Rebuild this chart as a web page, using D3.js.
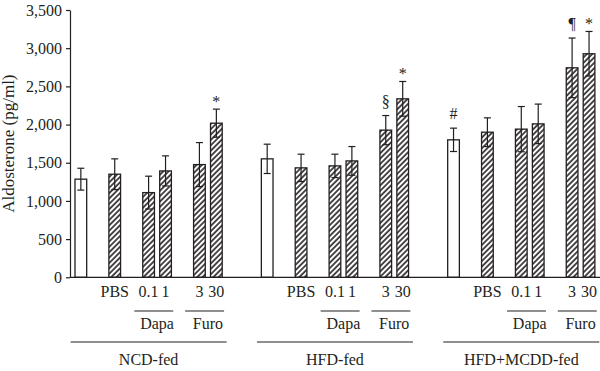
<!DOCTYPE html>
<html>
<head>
<meta charset="utf-8">
<script src="https://cdn.jsdelivr.net/npm/d3@7"></script>
<style>
  body { margin: 0; background: #fff; }
  svg text { font-family: "Liberation Serif", "DejaVu Serif", serif; fill: #231f20; }
</style>
</head>
<body>
<div id="chart"></div>
<script>
// groups of mice and the treatments given inside each group
const groups = ['NCD-fed', 'HFD-fed', 'HFD+MCDD-fed']
const treatments = ['', 'PBS', '0.1', '1', '3', '30']
const treatmentSlots = [0, 2, 4, 5, 7, 8]   // slot of each bar inside a group
const drugs = [
  { name: 'Dapa', slots: [4, 5] },
  { name: 'Furo', slots: [7, 8] }
]

// aldosterone means (pg/ml), one list per group
const ncdMeans = [1285, 1350, 1109, 1393, 1476, 2018]
const hfdMeans = [1551, 1433, 1459, 1524, 1927, 2337]
const mcddMeans = [1800, 1900, 1940, 2009, 2743, 2927]
// error bars
const ncdErrors = [143, 201, 215, 197, 288, 184]
const hfdErrors = [192, 179, 153, 188, 191, 227]
const mcddErrors = [153, 188, 296, 259, 390, 292]
// significance marks
const ncdMarks = ['', '', '', '', '', '*']
const hfdMarks = ['', '', '', '', '§', '*']
const mcddMarks = ['#', '', '', '', '¶', '*']

const yTicks = [0, 500, 1000, 1500, 2000, 2500, 3000, 3500]

const means = [ncdMeans, hfdMeans, mcddMeans]
const errors = [ncdErrors, hfdErrors, mcddErrors]
const marks = [ncdMarks, hfdMarks, mcddMarks]

const data = []
groups.forEach((g, gi) => {
  treatments.forEach((t, ti) => {
    data.push({
      group: g, gi: gi, label: t, slot: gi * 11 + treatmentSlots[ti],
      value: means[gi][ti], err: errors[gi][ti], mark: marks[gi][ti],
      control: ti === 0
    })
  })
})

const width = 600
const height = 371
const ink = '#231f20'

const svg = d3.select('#chart').append('svg')
  .attr('width', width)
  .attr('height', height)

// hatch pattern for treated bars
svg.append('defs').append('pattern')
  .attr('id', 'hatch')
  .attr('patternUnits', 'userSpaceOnUse')
  .attr('width', 3.8)
  .attr('height', 3.8)
  .attr('patternTransform', 'rotate(45)')
  .call(p => {
    p.append('rect').attr('width', 3.8).attr('height', 3.8).attr('fill', '#fff')
    p.append('line')
      .attr('x1', 1).attr('x2', 1).attr('y1', 0).attr('y2', 3.8)
      .attr('stroke', ink).attr('stroke-width', 1.6)
  })

// scales
const axisX = 70
const slotCount = 33
const step = 16.94
const pad = 0.31
const x = d3.scaleBand()
  .domain(d3.range(slotCount))
  .range([75, 75 + step * (slotCount - pad)])
  .paddingInner(pad)
  .paddingOuter(0)
  .align(0)
const bw = x.bandwidth()
// continuous slot position, used for brackets under the axis
const u = d3.scaleLinear().domain([0, 1]).range([75, 75 + x.step()])

const y = d3.scaleLinear().domain([0, 3500]).range([277.3, 10])

// y axis
const yAxis = d3.axisLeft(y)
  .tickValues(yTicks)
  .tickFormat(d3.format(','))
  .tickSize(4)
  .tickSizeOuter(0)
  .tickPadding(4)
const gy = svg.append('g')
  .attr('transform', `translate(${axisX},0)`)
  .call(yAxis)
gy.select('.domain').attr('stroke', ink).attr('stroke-width', 1.2)
gy.selectAll('.tick line').attr('stroke', ink).attr('stroke-width', 1.2)
gy.selectAll('.tick text')
  .attr('font-size', 16)
  .attr('font-family', '"Liberation Serif", serif')
  .attr('fill', ink)

svg.append('text')
  .attr('transform', `translate(14, ${y(1750)}) rotate(-90)`)
  .attr('text-anchor', 'middle')
  .attr('font-size', 17)
  .text('Aldosterone (pg/ml)')

// bars
const bars = svg.append('g')
bars.selectAll('rect').data(data).join('rect')
  .attr('x', d => x(d.slot))
  .attr('y', d => y(d.value))
  .attr('width', bw)
  .attr('height', d => y(0) - y(d.value))
  .attr('fill', d => d.control ? '#fff' : 'url(#hatch)')
  .attr('stroke', ink)
  .attr('stroke-width', 1.3)

// error bars
const eb = svg.append('g').attr('stroke', ink).attr('stroke-width', 1.2)
eb.selectAll('line.v').data(data).join('line').attr('class', 'v')
  .attr('x1', d => x(d.slot) + bw / 2).attr('x2', d => x(d.slot) + bw / 2)
  .attr('y1', d => y(d.value - d.err)).attr('y2', d => y(d.value + d.err))
eb.selectAll('line.top').data(data).join('line').attr('class', 'top')
  .attr('x1', d => x(d.slot) + bw / 2 - 3.5).attr('x2', d => x(d.slot) + bw / 2 + 3.5)
  .attr('y1', d => y(d.value + d.err)).attr('y2', d => y(d.value + d.err))
eb.selectAll('line.bot').data(data).join('line').attr('class', 'bot')
  .attr('x1', d => x(d.slot) + bw / 2 - 3.5).attr('x2', d => x(d.slot) + bw / 2 + 3.5)
  .attr('y1', d => y(d.value - d.err)).attr('y2', d => y(d.value - d.err))

// significance marks
svg.append('g').selectAll('text').data(data.filter(d => d.mark)).join('text')
  .attr('x', d => x(d.slot) + bw / 2)
  .attr('y', d => y(d.value + d.err) - (d.mark === '*' ? 2 : 9))
  .attr('text-anchor', 'middle')
  .attr('font-size', 16)
  .text(d => d.mark)

// x baseline
svg.append('line')
  .attr('x1', axisX).attr('x2', width)
  .attr('y1', y(0)).attr('y2', y(0))
  .attr('stroke', ink).attr('stroke-width', 1.3)

// treatment labels
svg.append('g').selectAll('text').data(data.filter(d => d.label)).join('text')
  .attr('x', d => x(d.slot) + bw / 2)
  .attr('y', 297)
  .attr('text-anchor', 'middle')
  .attr('font-size', 16)
  .text(d => d.label)

// drug brackets and group brackets
const lines = svg.append('g').attr('stroke', ink).attr('stroke-width', 1.1)
const labels = svg.append('g').attr('text-anchor', 'middle').attr('font-size', 16)
groups.forEach((g, gi) => {
  const base = gi * 11
  drugs.forEach(dr => {
    lines.append('line')
      .attr('x1', u(base + dr.slots[0] - 0.5)).attr('x2', u(base + dr.slots[1] + 0.8))
      .attr('y1', 311).attr('y2', 311)
    labels.append('text')
      .attr('x', (x(base + dr.slots[0]) + x(base + dr.slots[1]) + bw) / 2)
      .attr('y', 329)
      .text(dr.name)
  })
  lines.append('line')
    .attr('x1', u(base - 0.26)).attr('x2', u(base + 8.95))
    .attr('y1', 342).attr('y2', 342)
  labels.append('text')
    .attr('x', x(base + 4) + bw / 2)
    .attr('y', 365)
    .text(g)
})
</script>
</body>
</html>
